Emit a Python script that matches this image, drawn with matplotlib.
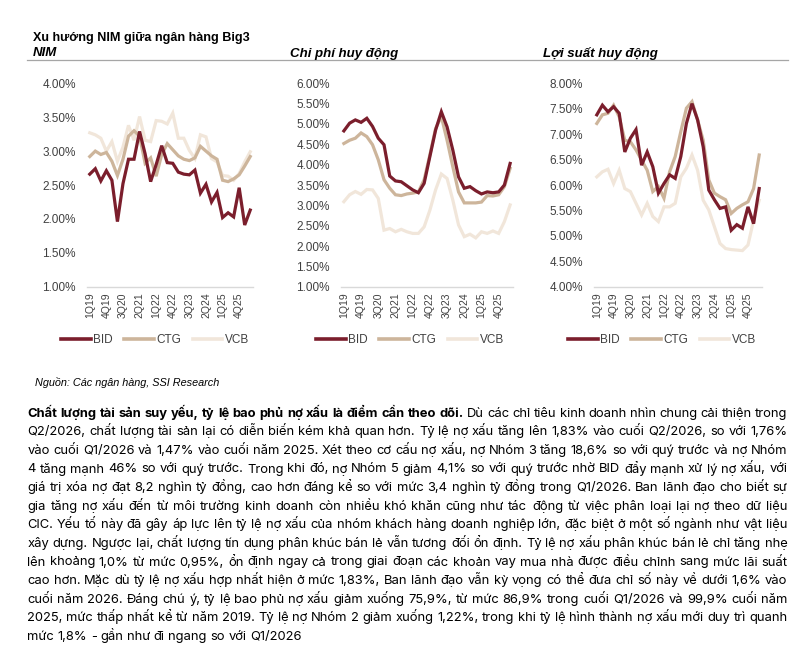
import matplotlib
matplotlib.use("Agg")
import matplotlib.pyplot as plt
from matplotlib.font_manager import FontProperties
from matplotlib.lines import Line2D

# ---------------- data ----------------
quarters = ["1Q19", "2Q19", "3Q19", "4Q19", "1Q20", "2Q20", "3Q20", "4Q20",
            "1Q21", "2Q21", "3Q21", "4Q21", "1Q22", "2Q22", "3Q22", "4Q22",
            "1Q23", "2Q23", "3Q23", "4Q23", "1Q24", "2Q24", "3Q24", "4Q24",
            "1Q25", "2Q25", "3Q25", "4Q25", "1Q26", "2Q26"]
banks = ["BID", "CTG", "VCB"]

nim_bid = [2.66, 2.74, 2.56, 2.71, 2.57, 1.96, 2.52, 2.88, 2.88, 3.29,
           2.96, 2.55, 2.80, 3.08, 2.83, 2.82, 2.69, 2.66, 2.65, 2.72,
           2.38, 2.51, 2.25, 2.39, 2.02, 2.09, 2.03, 2.46, 1.91, 2.13]
nim_ctg = [2.92, 3.00, 2.95, 2.98, 2.85, 2.64, 2.88, 3.22, 3.30, 3.22,
           2.82, 2.90, 2.63, 2.95, 3.11, 3.02, 2.93, 2.88, 2.86, 2.90,
           3.07, 3.00, 2.93, 2.88, 2.57, 2.55, 2.59, 2.65, 2.78, 2.92]
nim_vcb = [3.27, 3.24, 3.19, 3.00, 3.14, 2.85, 3.06, 3.38, 3.16, 3.51,
           3.16, 3.14, 3.45, 3.44, 3.40, 3.56, 3.19, 3.19, 3.01, 2.89,
           3.24, 3.21, 2.89, 2.84, 2.64, 2.63, 2.57, 2.67, 2.84, 2.99]

cost_bid = [4.83, 5.02, 5.10, 5.04, 5.14, 4.94, 4.65, 4.49, 3.72, 3.60,
            3.58, 3.48, 3.38, 3.31, 3.54, 4.20, 4.85, 5.30, 4.93, 4.36,
            3.70, 3.42, 3.46, 3.36, 3.28, 3.33, 3.31, 3.33, 3.50, 4.03]
cost_ctg = [4.52, 4.60, 4.65, 4.78, 4.69, 4.49, 4.12, 3.63, 3.42, 3.26,
            3.24, 3.28, 3.30, 3.33, 3.63, 4.24, 4.89, 5.18, 4.60, 3.95,
            3.33, 3.06, 3.06, 3.06, 3.08, 3.24, 3.23, 3.26, 3.46, 3.91]
cost_vcb = [3.09, 3.26, 3.34, 3.27, 3.39, 3.38, 3.17, 2.39, 2.43, 2.35,
            2.41, 2.35, 2.31, 2.31, 2.47, 2.88, 3.38, 3.77, 3.66, 3.13,
            2.52, 2.23, 2.29, 2.20, 2.35, 2.31, 2.37, 2.31, 2.60, 3.01]

yld_bid = [7.38, 7.57, 7.44, 7.54, 7.41, 6.65, 6.92, 7.09, 6.39, 6.65,
           6.36, 5.84, 6.03, 6.20, 6.13, 6.56, 7.21, 7.60, 7.28, 6.75,
           5.90, 5.71, 5.54, 5.57, 5.11, 5.22, 5.15, 5.57, 5.24, 5.93]
yld_ctg = [7.21, 7.38, 7.41, 7.57, 7.34, 6.88, 6.85, 6.69, 6.49, 6.29,
           5.87, 5.97, 5.74, 6.26, 6.56, 7.05, 7.51, 7.64, 7.28, 6.88,
           6.10, 5.84, 5.77, 5.71, 5.44, 5.54, 5.61, 5.67, 5.93, 6.59]
yld_vcb = [6.16, 6.26, 6.31, 6.03, 6.29, 5.93, 5.87, 5.64, 5.41, 5.64,
           5.38, 5.28, 5.57, 5.57, 5.64, 6.16, 6.33, 6.59, 6.29, 5.70,
           5.51, 5.18, 4.85, 4.75, 4.73, 4.72, 4.71, 4.82, 5.31, 5.70]

main_title = "Xu hướng NIM giữa ngân hàng Big3"
chart_titles = ["NIM", "Chi phí huy động", "Lợi suất huy động"]
y_ticks_nim = [1.0, 1.5, 2.0, 2.5, 3.0, 3.5, 4.0]
y_ticks_cost = [1.0, 1.5, 2.0, 2.5, 3.0, 3.5, 4.0, 4.5, 5.0, 5.5, 6.0]
y_ticks_yld = [4.0, 4.5, 5.0, 5.5, 6.0, 6.5, 7.0, 7.5, 8.0]
x_tick_idx = [0, 3, 6, 9, 12, 15, 18, 21, 24, 27]

source_text = "Nguồn: Các ngân hàng, SSI Research"
para_bold = "Chất lượng tài sản suy yếu, tỷ lệ bao phủ nợ xấu là điểm cần theo dõi."
para_lines = [
    " Dù các chỉ tiêu kinh doanh nhìn chung cải thiện trong",
    "Q2/2026, chất lượng tài sản lại có diễn biến kém khả quan hơn. Tỷ lệ nợ xấu tăng lên 1,83% vào cuối Q2/2026, so với 1,76%",
    "vào cuối Q1/2026 và 1,47% vào cuối năm 2025. Xét theo cơ cấu nợ xấu, nợ Nhóm 3 tăng 18,6% so với quý trước và nợ Nhóm",
    "4 tăng mạnh 46% so với quý trước. Trong khi đó, nợ Nhóm 5 giảm 4,1% so với quý trước nhờ BID đẩy mạnh xử lý nợ xấu, với",
    "giá trị xóa nợ đạt 8,2 nghìn tỷ đồng, cao hơn đáng kể so với mức 3,4 nghìn tỷ đồng trong Q1/2026. Ban lãnh đạo cho biết sự",
    "gia tăng nợ xấu đến từ môi trường kinh doanh còn nhiều khó khăn cũng như tác động từ việc phân loại lại nợ theo dữ liệu",
    "CIC. Yếu tố này đã gây áp lực lên tỷ lệ nợ xấu của nhóm khách hàng doanh nghiệp lớn, đặc biệt ở một số ngành như vật liệu",
    "xây dựng. Ngược lại, chất lượng tín dụng phân khúc bán lẻ vẫn tương đối ổn định. Tỷ lệ nợ xấu phân khúc bán lẻ chỉ tăng nhẹ",
    "lên khoảng 1,0% từ mức 0,95%, ổn định ngay cả trong giai đoạn các khoản vay mua nhà được điều chỉnh sang mức lãi suất",
    "cao hơn. Mặc dù tỷ lệ nợ xấu hợp nhất hiện ở mức 1,83%, Ban lãnh đạo vẫn kỳ vọng có thể đưa chỉ số này về dưới 1,6% vào",
    "cuối năm 2026. Đáng chú ý, tỷ lệ bao phủ nợ xấu giảm xuống 75,9%, từ mức 86,9% trong cuối Q1/2026 và 99,9% cuối năm",
    "2025, mức thấp nhất kể từ năm 2019. Tỷ lệ nợ Nhóm 2 giảm xuống 1,22%, trong khi tỷ lệ hình thành nợ xấu mới duy trì quanh",
    "mức 1,8% - gần như đi ngang so với Q1/2026",
]

# ---------------- style ----------------
W, H = 810, 658
colors = {"BID": "#7B1E2C", "CTG": "#CDB59B", "VCB": "#F1E6DA"}
tick_color = "#404040"
plt.rcParams["font.family"] = ["Liberation Sans", "DejaVu Sans"]

fig = plt.figure(figsize=(W / 100, H / 100), dpi=100)


def fx(px):
    return px / W


def fy(py):
    return 1 - py / H


panels = [
    (87, 166, (nim_bid, nim_ctg, nim_vcb), y_ticks_nim, 155),
    (341, 172, (cost_bid, cost_ctg, cost_vcb), y_ticks_cost, 410),
    (594, 168, (yld_bid, yld_ctg, yld_vcb), y_ticks_yld, 662),
]
top_px, bot_px = 83.3, 286.7

for left, width, series, yt, leg_cx in panels:
    ax = fig.add_axes([fx(left), fy(bot_px), width / W, (bot_px - top_px) / H])
    xs = list(range(len(quarters)))
    for name, vals in reversed(list(zip(banks, series))):
        ax.plot(xs, vals, color=colors[name], lw=2.3, solid_joinstyle="miter",
                zorder=3 if name == "BID" else 2)
    ax.set_xlim(-0.5, len(quarters) - 0.5)
    ax.set_ylim(yt[0], yt[-1])
    ax.set_yticks(yt)
    ax.set_yticklabels([f"{v:.2f}%" for v in yt])
    ax.set_xticks(x_tick_idx)
    ax.set_xticklabels([quarters[i] for i in x_tick_idx], rotation=90)
    for s in ["top", "right", "left"]:
        ax.spines[s].set_visible(False)
    ax.spines["bottom"].set_color("#D9D9D9")
    ax.spines["bottom"].set_linewidth(1.0)
    ax.tick_params(axis="y", length=0, pad=8, labelsize=8.5, labelcolor=tick_color)
    ax.tick_params(axis="x", length=0, pad=4, labelsize=7.5, labelcolor=tick_color)
    ax.patch.set_alpha(0)
    handles = [Line2D([0], [0], color=colors[b], lw=2.6) for b in banks]
    fig.legend(handles, banks, loc="center", bbox_to_anchor=(fx(leg_cx), fy(340)),
               ncol=3, frameon=False, fontsize=8.5, handlelength=2.5,
               handletextpad=0.2, columnspacing=1.0, labelcolor=tick_color)

# titles
fig.text(fx(33), fy(40.5), main_title, fontsize=9.1, fontweight="bold",
         ha="left", va="baseline", color="black")
title_x = [33, 290, 543]
for tx, t in zip(title_x, chart_titles):
    fig.text(fx(tx), fy(56.5), t, fontsize=9.5, fontweight="bold", style="italic",
             ha="left", va="baseline", color="black")
fig.add_artist(Line2D([fx(27), fx(788)], [fy(60), fy(60)], color="#A6A6A6", lw=0.9))

# source
fig.text(fx(35), fy(386), source_text, fontsize=7.8, style="italic",
         ha="left", va="baseline", color="black")

# justified paragraph
renderer = fig.canvas.get_renderer()
x0, x1 = 27.3, 787.5
base0, step = 416.7, 18.6


def measure(s, fp):
    w, h, d = renderer.get_text_width_height_descent(s, fp, ismath=False)
    return w


def line_words(li, fr, fb):
    words = []
    if li == 0:
        words += [(w, fb) for w in para_bold.split()]
    words += [(w, fr) for w in para_lines[li].split()]
    return words


# choose the largest size (up to 10pt) at which every full line fits
size = 10.0
for _ in range(3):
    fp_reg = FontProperties(family=["Inter", "DejaVu Sans"], size=size)
    fp_bold = FontProperties(family=["Inter", "DejaVu Sans"], size=size, weight="bold")
    sp = measure("a a", fp_reg) - measure("aa", fp_reg)
    worst = 0
    for li in range(len(para_lines) - 1):
        ws = line_words(li, fp_reg, fp_bold)
        nat = sum(measure(w, fp) for w, fp in ws) + sp * 0.85 * (len(ws) - 1)
        worst = max(worst, nat)
    if worst > (x1 - x0):
        size = size * (x1 - x0) / worst - 0.02
    else:
        break

fp_reg = FontProperties(family=["Inter", "DejaVu Sans"], size=size)
fp_bold = FontProperties(family=["Inter", "DejaVu Sans"], size=size, weight="bold")
sp = measure("a a", fp_reg) - measure("aa", fp_reg)

for li in range(len(para_lines)):
    words = line_words(li, fp_reg, fp_bold)
    widths = [measure(w, fp) for w, fp in words]
    last = li == len(para_lines) - 1
    if not last and len(words) > 1:
        gap = (x1 - x0 - sum(widths)) / (len(words) - 1)
    else:
        gap = sp
    x = x0
    y = base0 + li * step
    for (w, fp), wd in zip(words, widths):
        fig.text(fx(x), fy(y), w, fontproperties=fp, ha="left", va="baseline",
                 color="black")
        x += wd + gap

fig.savefig("out.png", dpi=100)
